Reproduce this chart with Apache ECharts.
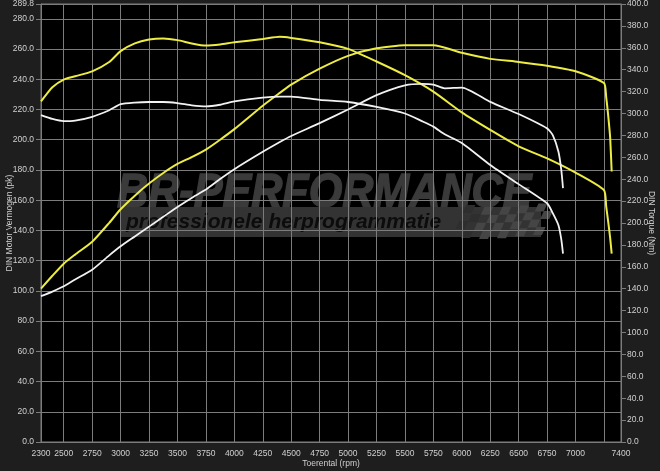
<!DOCTYPE html>
<html><head><meta charset="utf-8">
<script src="https://cdn.jsdelivr.net/npm/echarts@6/dist/echarts.min.js"></script>
<style>html,body{margin:0;padding:0;background:#1e1e1e}#c{width:660px;height:471px}</style>
</head><body><div id="c"></div>
<script>
// ---- axis ticks / labels ----
const xTicks = [2300,2500,2750,3000,3250,3500,3750,4000,4250,4500,4750,5000,5250,5500,5750,6000,6250,6500,6750,7000,7250,7400];
const xLabels = [2300,2500,2750,3000,3250,3500,3750,4000,4250,4500,4750,5000,5250,5500,5750,6000,6250,6500,6750,7000,7400];
const leftTicks = [0,20,40,60,80,100,120,140,160,180,200,220,240,260,280,289.8];

// ---- tuned (yellow) ----
const yellowRpm = [2300,2400,2500,2600,2750,2900,3000,3125,3250,3375,3500,3625,3750,3875,4000,4250,4400,4500,4750,5000,5250,5500,5750,6000,6250,6500,6750,7000,7250,7270,7290,7305,7318];
const yellowPower = [101.5,110,118,124,132.5,145,154,163,171,178,184,188.5,193.5,200,207,222.5,231,236.5,247,255.5,260.5,262.5,262.5,257.5,253.5,251.5,249,245.3,237.5,228,214,201,179];
const yellowTorque = [311,324,331,334,338.5,347,357,364,367.5,368.5,367,364,362,363,365,368,370,369,365,359,347.5,335,320,301,285,270,259,246,230,215,199,186,172];

// ---- stock (white) ----
const whiteRpm = [2300,2400,2500,2600,2750,2900,3000,3125,3250,3375,3500,3625,3750,3875,4000,4250,4400,4500,4750,5000,5250,5500,5650,5750,5850,6000,6250,6500,6750,6800,6850,6875,6890];
const whitePower = [96.5,99.5,103,107.5,114,123.5,129.5,136,142.5,149,155.5,161.5,167,174,180.5,192,198.5,202.5,211,220,229.5,236,237,236.5,234,234.5,225,217,207.5,203,192,180,168];
const whiteTorque = [298.5,295,293,293.5,297,303,308.5,310,310.5,310.5,309.5,307.5,306.5,308,311,314.5,315.5,315.5,312.5,310.5,306,300,293,288,281,273,253,235.5,218,209,198,185,172];

const pairs = (xs, ys) => xs.map((x, i) => [x, ys[i]]);

const FONT = '"Liberation Sans", Arial, sans-serif';
const TXT = '#d0d0d0';
const GRIDC = '#7c7c7c';
const FS = 8.5;

// checkered flag cells (decoration)
const checker = [];
(function(){
  const cw = 9, ch = 8, sk = 0.45, ox = 452, oy = 205;
  for (let r = 0; r < 4; r++) {
    for (let c = 0; c < 10; c++) {
      if ((r + c) % 2) continue;
      const x0 = ox + c * cw + (4 - r) * ch * sk;
      const y0 = oy + r * ch + Math.sin(c / 2) * 2;
      checker.push({
        type: 'polygon', z: -5, silent: true,
        shape: {points: [[x0, y0], [x0 + cw, y0], [x0 + cw - ch * sk, y0 + ch], [x0 - ch * sk, y0 + ch]]},
        style: {fill: c < 2 ? '#2e2e2e' : '#454545'}
      });
    }
  }
})();

const chart = echarts.init(document.getElementById('c'));
chart.setOption({
  animation: false,
  backgroundColor: '#1e1e1e',
  textStyle: {fontFamily: FONT, color: TXT},
  grid: {left: 41, right: 39, top: 4, bottom: 29, containLabel: false, outerBoundsMode: 'none', show: true, backgroundColor: '#000', borderColor: GRIDC, borderWidth: 1, z: -10},
  graphic: {elements: [
    {type: 'text', z: -5, silent: true, x: 117, y: 169, scaleX: 0.88,
     style: {text: 'BR-PERFORMANCE', font: 'italic bold 49px ' + FONT, fill: '#3a3a3a', stroke: '#3a3a3a', lineWidth: 1.5, textVerticalAlign: 'top'}},
    {type: 'rect', z: -5, silent: true, shape: {x: 121, y: 207, width: 420, height: 30}, style: {fill: '#333333'}},
    {type: 'text', z: -5, silent: true, x: 126, y: 222,
     style: {text: 'professionele herprogrammatie', font: 'italic bold 21px ' + FONT, fill: '#0c0c0c', textVerticalAlign: 'middle'}}
  ].concat(checker)},
  xAxis: {
    type: 'value', min: 2300, max: 7400,
    name: 'Toerental (rpm)', nameLocation: 'middle', nameGap: 17, nameMoveOverlap: false,
    nameTextStyle: {color: TXT, fontSize: FS, fontFamily: FONT},
    axisLine: {show: true, lineStyle: {color: GRIDC}},
    axisTick: {show: false, customValues: xTicks},
    axisLabel: {customValues: xLabels, color: TXT, fontSize: FS, margin: 7, fontFamily: FONT, formatter: v => String(v)},
    splitLine: {show: true, lineStyle: {color: GRIDC, width: 1}}
  },
  yAxis: [{
    type: 'value', min: 0, max: 289.8, position: 'left',
    name: 'DIN Motor Vermogen (pk)', nameLocation: 'middle', nameGap: 27, nameRotate: 90, nameMoveOverlap: false,
    nameTextStyle: {color: TXT, fontSize: FS, fontFamily: FONT},
    axisLine: {show: true, lineStyle: {color: GRIDC}},
    axisTick: {show: true, length: 5, customValues: leftTicks, lineStyle: {color: GRIDC}},
    axisLabel: {customValues: leftTicks, color: TXT, fontSize: FS, margin: 7, fontFamily: FONT, formatter: v => Number(v).toFixed(1)},
    splitLine: {show: true, lineStyle: {color: GRIDC, width: 1}}
  }, {
    type: 'value', min: 0, max: 400, interval: 20, position: 'right',
    name: 'DIN Torque (Nm)', nameLocation: 'middle', nameGap: 26, nameRotate: -90, nameMoveOverlap: false,
    nameTextStyle: {color: TXT, fontSize: FS, fontFamily: FONT},
    axisLine: {show: true, lineStyle: {color: GRIDC}},
    axisTick: {show: true, length: 5, lineStyle: {color: GRIDC}},
    axisLabel: {color: TXT, fontSize: FS, margin: 6, fontFamily: FONT, formatter: v => Number(v).toFixed(1)},
    splitLine: {show: false}
  }],
  series: [
    {name: 'Vermogen tuned', type: 'line', yAxisIndex: 0, data: pairs(yellowRpm, yellowPower), showSymbol: false, smooth: 0.2, lineStyle: {color: '#ecec44', width: 2}, itemStyle: {color: '#ecec44'}},
    {name: 'Koppel tuned', type: 'line', yAxisIndex: 1, data: pairs(yellowRpm, yellowTorque), showSymbol: false, smooth: 0.2, lineStyle: {color: '#ecec44', width: 2}, itemStyle: {color: '#ecec44'}},
    {name: 'Vermogen origineel', type: 'line', yAxisIndex: 0, data: pairs(whiteRpm, whitePower), showSymbol: false, smooth: 0.2, lineStyle: {color: '#f2f2f2', width: 1.8}, itemStyle: {color: '#f2f2f2'}},
    {name: 'Koppel origineel', type: 'line', yAxisIndex: 1, data: pairs(whiteRpm, whiteTorque), showSymbol: false, smooth: 0.2, lineStyle: {color: '#f2f2f2', width: 1.8}, itemStyle: {color: '#f2f2f2'}}
  ]
});
</script></body></html>
